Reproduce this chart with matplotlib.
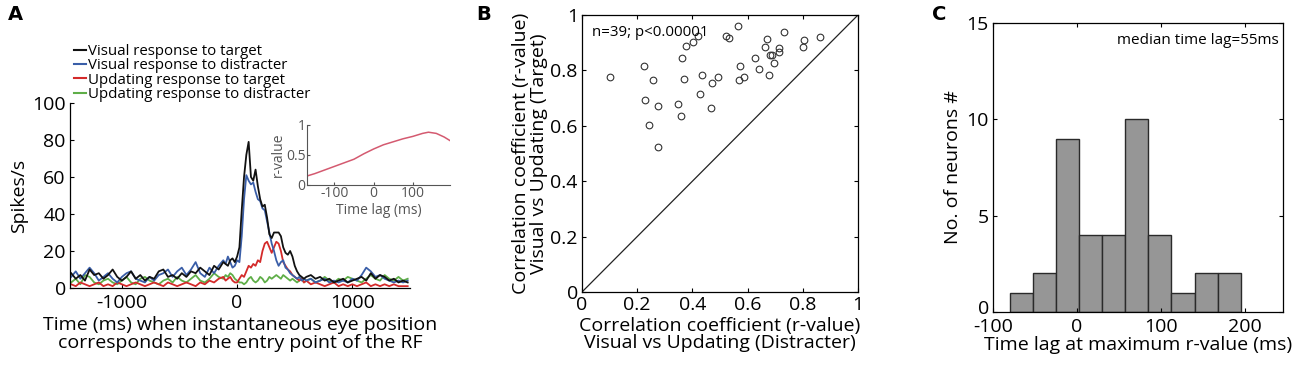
import numpy as np
import matplotlib
matplotlib.use("Agg")
import matplotlib.pyplot as plt
from matplotlib.lines import Line2D
from matplotlib.transforms import ScaledTranslation

plt.rcParams['font.family'] = ['Open Sans', 'DejaVu Sans']
plt.rcParams['axes.unicode_minus'] = False

# ---------------- Panel A data ----------------
t_pre = list(range(-1440, -119, 40))
t_mid = list(range(-100, 601, 20))
t_post = list(range(640, 1481, 40))
time_ms = t_pre + t_mid + t_post

vis_target = ([8, 5, 7, 4, 10, 7, 8, 5, 7, 10, 6, 4, 6, 9, 5, 7, 4, 6, 5, 9, 10, 6, 7, 5, 8, 6, 9, 8, 11, 9, 7, 12, 10, 14]
              + [13, 12, 15, 16, 14, 17, 22, 42, 60, 72, 79, 60, 58, 64, 55, 48, 44, 45, 38, 29, 27, 30, 30, 30, 28, 22,
                 19, 18, 20, 17, 12, 9, 7, 6, 5, 6]
              + [7, 5, 6, 4, 5, 3, 4, 5, 3, 4, 5, 6, 4, 8, 5, 7, 6, 4, 5, 3, 4, 3])
vis_distr = ([6, 9, 5, 8, 11, 8, 4, 6, 8, 5, 3, 6, 8, 9, 5, 4, 3, 6, 4, 7, 8, 10, 6, 9, 11, 7, 10, 14, 8, 6, 11, 8, 12, 15]
             + [13, 17, 14, 11, 12, 15, 14, 28, 48, 61, 58, 56, 57, 52, 48, 47, 43, 42, 36, 30, 24, 20, 15, 12, 14, 15,
                11, 10, 8, 7, 6, 5, 6, 4, 5, 4]
             + [5, 3, 4, 5, 3, 4, 3, 4, 3, 5, 4, 7, 11, 9, 6, 7, 5, 4, 3, 4, 3, 4])
upd_target = ([2, 1, 3, 2, 1, 2, 3, 1, 2, 1, 3, 2, 1, 2, 3, 2, 1, 2, 3, 2, 1, 3, 2, 1, 2, 3, 2, 1, 3, 2, 4, 3, 5, 6]
              + [4, 5, 6, 4, 3, 3, 5, 7, 6, 9, 12, 11, 13, 12, 15, 14, 20, 24, 25, 22, 19, 22, 25, 24, 20, 14,
                 12, 10, 9, 7, 6, 5, 4, 5, 3, 4]
              + [2, 3, 2, 1, 2, 3, 1, 2, 1, 2, 1, 2, 3, 1, 2, 1, 2, 1, 2, 1, 1, 1])
upd_distr = ([3, 5, 2, 7, 6, 3, 2, 4, 5, 3, 2, 4, 6, 3, 2, 5, 6, 4, 3, 2, 4, 5, 3, 6, 4, 3, 5, 7, 4, 3, 5, 8, 6, 5]
             + [7, 6, 8, 7, 5, 4, 3, 3, 2, 3, 5, 6, 4, 3, 4, 6, 5, 3, 4, 6, 5, 6, 7, 6, 5, 7,
                6, 5, 4, 5, 4, 3, 4, 5, 3, 4]
             + [5, 3, 4, 6, 4, 3, 5, 4, 6, 5, 4, 3, 5, 7, 5, 4, 7, 5, 4, 6, 4, 5])
series_labels = ["Visual response to target", "Visual response to distracter",
                 "Updating response to target", "Updating response to distracter"]
series_colors = ["#111111", "#3a5ea8", "#d42a2a", "#5fae48"]

# inset
lag_ms = [-170, -150, -125, -100, -75, -50, -25, 0, 25, 50, 75, 100, 125, 140, 160, 180, 195]
r_lag = [0.15, 0.19, 0.25, 0.31, 0.37, 0.43, 0.52, 0.60, 0.67, 0.72, 0.77, 0.81, 0.86, 0.88, 0.86, 0.80, 0.74]

# ---------------- Panel B data ----------------
r_distracter = [0.102, 0.225, 0.227, 0.241, 0.257, 0.275, 0.275, 0.349, 0.357, 0.363, 0.369, 0.376, 0.402,
                0.419, 0.429, 0.436, 0.471, 0.469, 0.492, 0.520, 0.531, 0.565, 0.569, 0.572, 0.587, 0.625,
                0.641, 0.664, 0.669, 0.676, 0.681, 0.690, 0.695, 0.712, 0.713, 0.733, 0.805, 0.802, 0.864]
r_target = [0.777, 0.816, 0.693, 0.602, 0.767, 0.671, 0.524, 0.677, 0.635, 0.846, 0.770, 0.889, 0.902,
            0.924, 0.713, 0.782, 0.753, 0.664, 0.775, 0.925, 0.916, 0.959, 0.767, 0.817, 0.777, 0.843,
            0.805, 0.886, 0.913, 0.782, 0.855, 0.855, 0.825, 0.865, 0.880, 0.939, 0.911, 0.883, 0.922]

# ---------------- Panel C data ----------------
lag_bin_centers = [-66.5, -39.0, -11.5, 16.0, 43.5, 71.0, 98.5, 126.0, 153.5, 181.0]
neuron_counts = [1, 2, 9, 4, 4, 10, 4, 1, 2, 2]
bin_width = 27.5

FS = 14
fig = plt.figure(figsize=(13, 3.7), dpi=100)

# ---------------- Panel A ----------------
axA = fig.add_axes([70/1300, 1-288/370, 340/1300, 185/370])
data = [vis_target, vis_distr, upd_target, upd_distr]
for i in [3, 2, 1, 0]:
    axA.plot(time_ms, data[i], color=series_colors[i], lw=1.3)
axA.set_xlim(-1450, 1500)
axA.set_ylim(0, 100)
axA.set_xticks([-1000, 0, 1000])
axA.set_yticks([0, 20, 40, 60, 80, 100])
axA.tick_params(direction='in', length=3, labelsize=FS, pad=3)
axA.tick_params(axis='x', pad=4)
axA.spines['top'].set_visible(False)
axA.spines['right'].set_visible(False)
axA.set_ylabel("Spikes/s", fontsize=FS, labelpad=3)
axA.set_xlabel("Time (ms) when instantaneous eye position\ncorresponds to the entry point of the RF",
               fontsize=FS, labelpad=3, linespacing=1.0)
leg_handles = [Line2D([0], [0], color=series_colors[i], lw=1.5) for i in range(4)]
fig.legend(leg_handles, series_labels, loc='upper left', bbox_to_anchor=(74/1300, 1-44/370),
           frameon=False, fontsize=10.8, handlelength=0.8, handletextpad=0.15,
           labelspacing=-0.05, borderpad=0, borderaxespad=0)

# inset
axI = fig.add_axes([307/1300, 1-185/370, 143/1300, 60/370])
axI.plot(lag_ms, r_lag, color="#d45a70", lw=1.1)
axI.set_xlim(-170, 195)
axI.set_ylim(0, 1)
axI.set_xticks([-100, 0, 100])
axI.set_yticks([0, 0.5, 1])
axI.set_yticklabels(["0", "0.5", "1"])
axI.spines['top'].set_visible(False)
axI.spines['right'].set_visible(False)
for s in ['left', 'bottom']:
    axI.spines[s].set_color("#555555")
axI.tick_params(direction='in', length=2, labelsize=10, pad=1, colors="#555555")
axI.set_xlabel("Time lag (ms)", fontsize=10, color="#555555", labelpad=1)
axI.set_ylabel("r-value", fontsize=10, color="#555555", labelpad=0)
axI.patch.set_alpha(0)

# ---------------- Panel B ----------------
axB = fig.add_axes([582/1300, 1-292/370, 276/1300, 277/370])
axB.plot([0, 1], [0, 1], color="#222222", lw=0.9)
axB.plot(r_distracter, r_target, linestyle='none', marker='o', markersize=4.8,
         markerfacecolor='none', markeredgecolor='#333333', markeredgewidth=0.8)
axB.set_xlim(0, 1)
axB.set_ylim(0, 1)
ticksB = [0, 0.2, 0.4, 0.6, 0.8, 1]
axB.set_xticks(ticksB)
axB.set_yticks(ticksB)
axB.set_xticklabels(["0", "0.2", "0.4", "0.6", "0.8", "1"])
axB.set_yticklabels(["0", "0.2", "0.4", "0.6", "0.8", "1"])
axB.tick_params(direction='in', length=3, labelsize=FS, top=True, right=True, pad=3)
axB.set_xlabel("Correlation coefficient (r-value)\nVisual vs Updating (Distracter)", fontsize=FS,
               labelpad=2, linespacing=0.95)
axB.set_ylabel("Correlation coefficient (r-value)\nVisual vs Updating (Target)", fontsize=FS,
               labelpad=2, linespacing=0.95)
axB.text(0.035, 0.965, "n=39; p<0.00001", transform=axB.transAxes, fontsize=10.8,
         ha='left', va='top')

# ---------------- Panel C ----------------
axC = fig.add_axes([993/1300, 1-312/370, 290/1300, 289/370])
axC.bar(lag_bin_centers, neuron_counts, width=bin_width, color="#969696",
        edgecolor="#2a2a2a", linewidth=1.0)
axC.set_xlim(-100, 245)
axC.set_ylim(0, 15)
axC.set_xticks([-100, 0, 100, 200])
axC.set_yticks([0, 5, 10, 15])
axC.tick_params(direction='in', length=3, labelsize=FS, top=True, right=True)
axC.tick_params(axis='x', pad=4)
axC.tick_params(axis='y', pad=3)
axC.set_xlabel("Time lag at maximum r-value (ms)", fontsize=FS, labelpad=0)
axC.set_ylabel("No. of neurons #", fontsize=FS, labelpad=3)
axC.text(0.985, 0.965, "median time lag=55ms", transform=axC.transAxes, fontsize=11,
         ha='right', va='top')
# nudge the "0" y tick label up a little so it does not collide with "-100"
zero_lab = axC.get_yticklabels()[0]
zero_lab.set_transform(zero_lab.get_transform() + ScaledTranslation(0, 5/100, fig.dpi_scale_trans))

for ax in [axA, axB, axC]:
    for s in ax.spines.values():
        s.set_linewidth(0.9)

# panel letters
fig.text(8/1300, 1-15/370, "A", fontsize=14, fontweight='bold', va='center', ha='left', family='DejaVu Sans')
fig.text(476/1300, 1-15/370, "B", fontsize=14, fontweight='bold', va='center', ha='left', family='DejaVu Sans')
fig.text(932/1300, 1-15/370, "C", fontsize=14, fontweight='bold', va='center', ha='left', family='DejaVu Sans')

fig.savefig("out.png", dpi=100)
